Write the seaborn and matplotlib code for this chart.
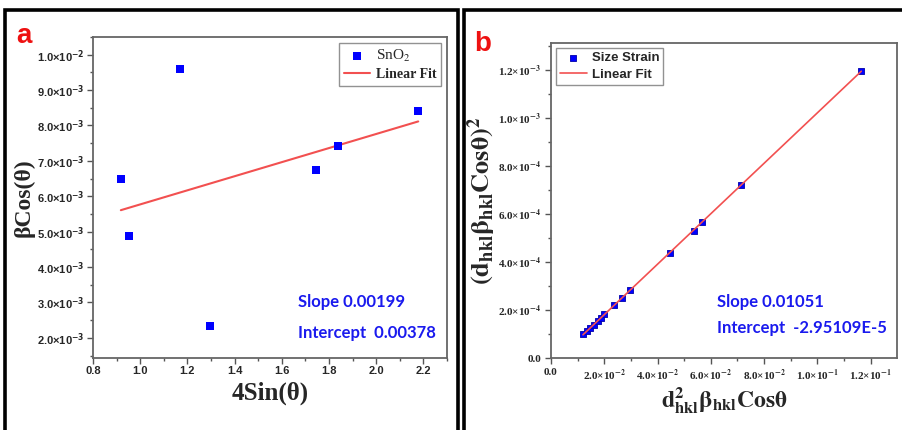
import numpy as np
import pandas as pd
import matplotlib
matplotlib.use("Agg")
import matplotlib.pyplot as plt
from matplotlib.ticker import FuncFormatter, FixedLocator, AutoMinorLocator
from matplotlib.patches import Rectangle
import seaborn as sns

# ---------------- data ----------------
# panel a : Williamson-Hall
wh_x = [0.918, 1.168, 0.952, 1.295, 1.747, 1.840, 2.178]
wh_y = [6.50e-3, 9.60e-3, 4.88e-3, 2.34e-3, 6.75e-3, 7.43e-3, 8.42e-3]
wh_slope = 0.00199
wh_intercept = 0.00378
wh_fit_x = [0.918, 2.178]

# panel b : size-strain plot
ss_x = [0.0120, 0.0135, 0.0148, 0.0160, 0.0175, 0.0188, 0.0200,
        0.0236, 0.0266, 0.0296, 0.0446, 0.0536, 0.0566, 0.0712, 0.1165]
ss_y = [1.00e-4, 1.13e-4, 1.26e-4, 1.39e-4, 1.55e-4, 1.68e-4, 1.82e-4,
        2.20e-4, 2.50e-4, 2.83e-4, 4.37e-4, 5.29e-4, 5.67e-4, 7.21e-4, 1.196e-3]
ss_slope = 0.01051
ss_intercept = -2.95109e-5
ss_fit_x = [0.0120, 0.1165]

a_xticks = [0.8, 1.0, 1.2, 1.4, 1.6, 1.8, 2.0, 2.2]
a_yticks = [2e-3, 3e-3, 4e-3, 5e-3, 6e-3, 7e-3, 8e-3, 9e-3, 1e-2]
b_xticks = [0.0, 0.02, 0.04, 0.06, 0.08, 0.10, 0.12]
b_yticks = [0.0, 2e-4, 4e-4, 6e-4, 8e-4, 1.0e-3, 1.2e-3]

sns.set_style("white")
plt.rcParams["font.family"] = ["Liberation Sans", "DejaVu Sans"]

W, H = 903, 430
fig = plt.figure(figsize=(W / 100, H / 100), dpi=100)

def fx(px):
    return px / W

def fy(py):
    return 1 - py / H

# outer frames
for (x0, x1) in [(5, 458), (464, 905)]:
    fig.patches.append(Rectangle((fx(x0), fy(440)), fx(x1) - fx(x0), fy(10) - fy(440),
                                 transform=fig.transFigure, fill=False,
                                 edgecolor="black", linewidth=2.6, zorder=0))

ax_a = fig.add_axes([fx(93), fy(358), fx(447) - fx(93), fy(37) - fy(358)])
ax_b = fig.add_axes([fx(551), fy(358), fx(897) - fx(551), fy(43) - fy(358)])

blue = "#0000ff"
txt_blue = "#1a1aee"
red = "#f25050"

def sci_fmt(v):
    if abs(v) < 1e-12:
        return "0.0"
    e = int(np.floor(np.log10(abs(v)) + 1e-9))
    m = v / 10 ** e
    return r"%.1f×10$^{\mathbf{%d}}$" % (m, e)

# ---------- panel a ----------
df_a = pd.DataFrame({"x": wh_x, "y": wh_y})
fit_a = pd.DataFrame({"x": wh_fit_x,
                      "y": [wh_slope * v + wh_intercept for v in wh_fit_x]})
sns.scatterplot(data=df_a, x="x", y="y", ax=ax_a, marker="s", s=26, color=blue,
                edgecolor=blue, linewidth=0, label="SnO$_2$", zorder=3)
sns.lineplot(data=fit_a, x="x", y="y", ax=ax_a, color=red, linewidth=1.5,
             label="Linear Fit", zorder=2)
ax_a.set_xlim(0.8, 2.3)
ax_a.set_ylim(0.00143, 0.0105)
ax_a.xaxis.set_major_locator(FixedLocator(a_xticks))
ax_a.yaxis.set_major_locator(FixedLocator(a_yticks))
ax_a.yaxis.set_major_formatter(FuncFormatter(lambda v, p: sci_fmt(v)))
ax_a.xaxis.set_major_formatter(FuncFormatter(lambda v, p: "%.1f" % v))
ax_a.set_xlabel("4Sin(θ)", family="Liberation Serif", fontweight="bold", fontsize=18, labelpad=4)
ax_a.set_ylabel("βCos(θ)", family="Liberation Serif", fontweight="bold", fontsize=17, labelpad=2)
ax_a.text(1.67, 0.00302, "Slope 0.00199", color=txt_blue, fontsize=12,
          family="Lato", fontweight="bold", va="center")
ax_a.text(1.67, 0.00215, "Intercept  0.00378", color=txt_blue, fontsize=12,
          family="Lato", fontweight="bold", va="center")
for lab in ax_a.get_xticklabels() + ax_a.get_yticklabels():
    lab.set_fontweight("bold")
    lab.set_math_fontfamily("dejavusans")
ax_a.tick_params(axis="both", labelsize=8, direction="out", length=4, width=1,
                 color="#555555", pad=2)
ax_a.tick_params(axis="both", which="minor", direction="out", length=2, width=1, color="#555555")
ax_a.xaxis.set_minor_locator(AutoMinorLocator(2))
ax_a.yaxis.set_minor_locator(AutoMinorLocator(2))
ax_a.tick_params(which="both", bottom=True, left=True)
for sp in ax_a.spines.values():
    sp.set_color("#666666")
    sp.set_linewidth(1.3)
leg = ax_a.legend(loc="upper right", frameon=True, fancybox=False, edgecolor="#777777",
                  borderaxespad=0.4, handlelength=1.7, handletextpad=0.4, borderpad=0.3,
                  labelspacing=0.25, prop={"family": "Liberation Serif", "size": 11})
leg.get_frame().set_linewidth(1.0)
leg.get_texts()[0].set_math_fontfamily("stix")
leg.get_texts()[1].set_fontweight("bold")
leg.get_texts()[1].set_fontsize(10)

# ---------- panel b ----------
df_b = pd.DataFrame({"x": ss_x, "y": ss_y})
fit_b = pd.DataFrame({"x": ss_fit_x,
                      "y": [ss_slope * v + ss_intercept for v in ss_fit_x]})
sns.scatterplot(data=df_b, x="x", y="y", ax=ax_b, marker="s", s=18, color=blue,
                edgecolor="#0000aa", linewidth=0.6, label="Size Strain", zorder=3)
sns.lineplot(data=fit_b, x="x", y="y", ax=ax_b, color=red, linewidth=1.2,
             label="Linear Fit", zorder=4)
ax_b.set_xlim(0.0, 0.1299)
ax_b.set_ylim(0.0, 1.3125e-3)
ax_b.xaxis.set_major_locator(FixedLocator(b_xticks))
ax_b.yaxis.set_major_locator(FixedLocator(b_yticks))
ax_b.xaxis.set_major_formatter(FuncFormatter(lambda v, p: sci_fmt(v)))
ax_b.yaxis.set_major_formatter(FuncFormatter(lambda v, p: sci_fmt(v)))
ax_b.set_xlabel(r"$\mathbf{d^2_{hkl}\beta_{hkl}Cos\theta}$", fontsize=17, labelpad=2)
ax_b.set_ylabel(r"$\mathbf{(d_{hkl}\beta_{hkl}Cos\theta)^2}$", fontsize=19, labelpad=0)
ax_b.xaxis.label.set_math_fontfamily("stix")
ax_b.yaxis.label.set_math_fontfamily("stix")
ax_b.text(0.0625, 2.33e-4, "Slope 0.01051", color=txt_blue, fontsize=12,
          family="Lato", fontweight="bold", va="center")
ax_b.text(0.0625, 1.27e-4, "Intercept  -2.95109E-5", color=txt_blue, fontsize=12,
          family="Lato", fontweight="bold", va="center")
for lab in ax_b.get_xticklabels() + ax_b.get_yticklabels():
    lab.set_fontweight("bold")
    lab.set_family("Liberation Serif")
    lab.set_math_fontfamily("stix")
ax_b.tick_params(axis="both", labelsize=8, direction="out", length=4, width=1,
                 color="#555555", pad=3)
ax_b.tick_params(axis="both", which="minor", direction="out", length=2, width=1, color="#555555")
ax_b.xaxis.set_minor_locator(AutoMinorLocator(2))
ax_b.yaxis.set_minor_locator(AutoMinorLocator(2))
ax_b.tick_params(which="both", bottom=True, left=True)
for sp in ax_b.spines.values():
    sp.set_color("#666666")
    sp.set_linewidth(1.3)
leg_b = ax_b.legend(loc="upper left", frameon=True, fancybox=False, edgecolor="#777777",
                    borderaxespad=0.4, handlelength=2.0, handletextpad=0.4, borderpad=0.3,
                    labelspacing=0.3,
                    prop={"family": "Liberation Sans", "size": 9.5, "weight": "bold"})
leg_b.get_frame().set_linewidth(1.0)

# panel letters
fig.text(fx(16), fy(43), "a", color="#ee1111", fontsize=20, fontweight="bold", va="baseline")
fig.text(fx(474), fy(51), "b", color="#ee1111", fontsize=20, fontweight="bold", va="baseline")

fig.savefig("out.png", dpi=100)
